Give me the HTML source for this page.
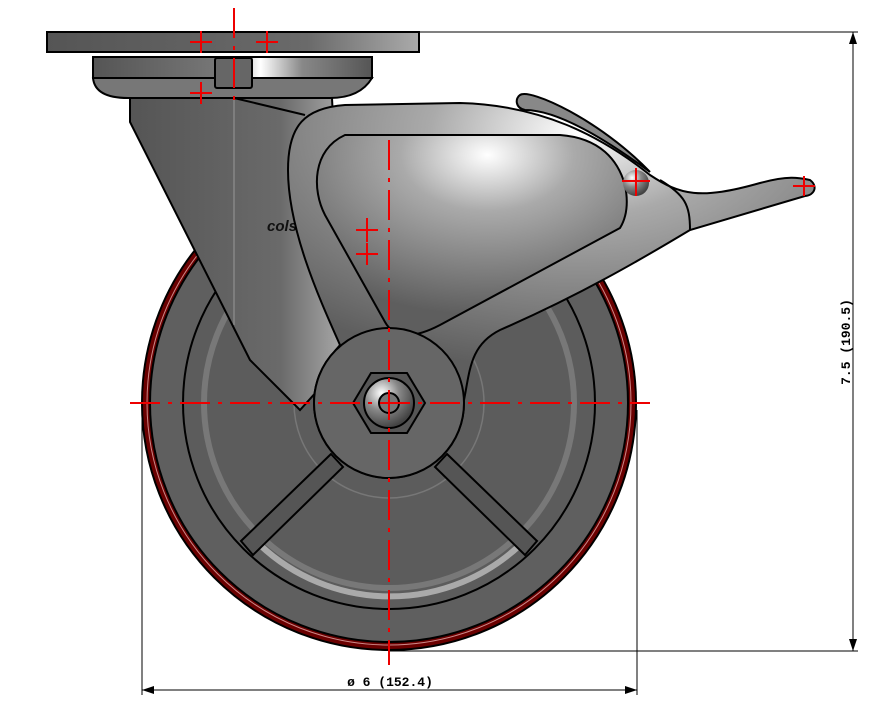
<!DOCTYPE html>
<html><head><meta charset="utf-8"><style>html,body{margin:0;padding:0;background:#fff}svg{display:block}</style></head>
<body>
<svg width="894" height="715" viewBox="0 0 894 715" xmlns="http://www.w3.org/2000/svg">
<defs>
<linearGradient id="g1" x1="0" y1="0" x2="1" y2="0"><stop offset="0" stop-color="#555"/><stop offset="0.7" stop-color="#6a6a6a"/><stop offset="1" stop-color="#aaa"/></linearGradient>
<linearGradient id="ring" x1="0" y1="0" x2="1" y2="0"><stop offset="0" stop-color="#555"/><stop offset="0.45" stop-color="#777"/><stop offset="0.6" stop-color="#fff"/><stop offset="0.75" stop-color="#888"/><stop offset="1" stop-color="#555"/></linearGradient>
<radialGradient id="arm" cx="0.55" cy="0.1" r="0.8"><stop offset="0" stop-color="#fff"/><stop offset="0.35" stop-color="#aaa"/><stop offset="1" stop-color="#5e5e5e"/></radialGradient>
<radialGradient id="ball" cx="0.35" cy="0.3" r="0.7"><stop offset="0" stop-color="#fff"/><stop offset="0.5" stop-color="#888"/><stop offset="1" stop-color="#444"/></radialGradient>
</defs>
<circle cx="389" cy="403" r="247" fill="#6b0000" stroke="#000" stroke-width="2"/>
<circle cx="389" cy="403" r="242" fill="none" stroke="#c88" stroke-width="1"/>
<circle cx="389" cy="403" r="239" fill="#5f5f5f" stroke="#000" stroke-width="2"/>
<circle cx="389" cy="403" r="206" fill="#5c5c5c" stroke="#000" stroke-width="2"/>
<circle cx="389" cy="403" r="185" fill="none" stroke="#8a8a8a" stroke-width="6" opacity="0.6"/>
<circle cx="389" cy="403" r="95" fill="none" stroke="#777" stroke-width="1.5"/>
<path d="M260 545 A190 190 0 0 0 520 545" fill="none" stroke="#ccc" stroke-width="6" opacity="0.7"/>
<path d="M331 454 L241 541 L253 555 L343 467 Z" fill="#555" stroke="#000" stroke-width="2"/>
<path d="M447 454 L537 541 L525 555 L435 467 Z" fill="#555" stroke="#000" stroke-width="2"/>
<path d="M130 98 L332 98 L345 360 L300 410 L250 360 L130 122 Z" fill="url(#g1)" stroke="#000" stroke-width="2"/>
<line x1="234" y1="98" x2="234" y2="325" stroke="#999" stroke-width="1"/>
<line x1="234" y1="98" x2="305" y2="115" stroke="#000" stroke-width="2"/>
<text x="267" y="231" font-family="Liberation Sans, sans-serif" font-size="15" font-weight="bold" font-style="italic" fill="#111">colson</text>
<rect x="47" y="32" width="372" height="20" fill="url(#g1)" stroke="#000" stroke-width="2"/>
<rect x="93" y="57" width="279" height="21" fill="url(#ring)" stroke="#000" stroke-width="2"/>
<path d="M93 78 L372 78 Q360 98 330 98 L128 98 Q95 98 93 78 Z" fill="#777" stroke="#000" stroke-width="2"/>
<rect x="215" y="58" width="37" height="30" rx="2" fill="#666" stroke="#000" stroke-width="2"/>
<circle cx="389" cy="403" r="75" fill="#666" stroke="#000" stroke-width="2"/>
<path d="M340 345 C320 300 288 230 288 170 C288 125 305 108 345 105 L460 103 C540 105 600 135 650 175 C680 195 700 200 760 183 C790 175 800 178 810 180 C818 186 815 195 805 196 L690 230 C640 260 580 295 500 330 C470 345 470 370 464 400 A75 75 0 0 0 316 400 C318 380 326 360 340 345 Z" fill="url(#arm)" stroke="#000" stroke-width="2"/>
<path d="M345 135 L560 135 C600 138 618 160 625 185 C628 200 628 215 620 228 L440 325 C415 338 395 340 385 322 L325 215 C312 190 312 150 345 135 Z" fill="url(#arm)" stroke="#000" stroke-width="2"/>
<path d="M690 230 C690 205 685 195 660 180" fill="none" stroke="#000" stroke-width="2"/>
<path d="M520 95 C530 88 600 120 650 172 C600 135 555 110 525 110 C515 108 515 98 520 95 Z" fill="#888" stroke="#000" stroke-width="2"/>
<circle cx="636" cy="183" r="13" fill="url(#ball)"/>
<circle cx="389" cy="403" r="75" fill="#666" stroke="#000" stroke-width="2"/>
<polygon points="353,403 371,373 407,373 425,403 407,433 371,433" fill="#555" stroke="#000" stroke-width="2"/>
<circle cx="389" cy="403" r="25" fill="url(#ball)" stroke="#000" stroke-width="2"/>
<circle cx="389" cy="403" r="10" fill="#777" stroke="#000" stroke-width="2"/>
<g stroke="#e00" stroke-width="2" fill="none">
<line x1="130" y1="403" x2="650" y2="403" stroke-dasharray="30,8,4,8"/>
<line x1="389" y1="140" x2="389" y2="665" stroke-dasharray="30,8,4,8"/>
<line x1="234" y1="8" x2="234" y2="100" stroke-dasharray="30,8,4,8"/>
<path d="M190 42h22M201 31v22M256 42h22M267 31v22M190 93h22M201 82v22M356 230h22M367 218v24M356 254h22M367 243v22M622 181h28M636 168v28M793 186h22M804 176v20"/>
</g>
<g stroke="#000" stroke-width="1" fill="none">
<line x1="419" y1="32" x2="858" y2="32"/>
<line x1="390" y1="651" x2="858" y2="651"/>
<line x1="853" y1="32" x2="853" y2="651"/>
<line x1="142" y1="410" x2="142" y2="695"/>
<line x1="637" y1="410" x2="637" y2="695"/>
<line x1="142" y1="690" x2="637" y2="690"/>
</g>
<g fill="#000">
<polygon points="853,32 849,44 857,44"/><polygon points="853,651 849,639 857,639"/>
<polygon points="142,690 154,686 154,694"/><polygon points="637,690 625,686 625,694"/>
</g>
<text x="390" y="686" text-anchor="middle" font-family="Liberation Mono, monospace" font-size="13" font-weight="bold">ø 6 (152.4)</text>
<text transform="translate(850,342) rotate(-90)" text-anchor="middle" font-family="Liberation Mono, monospace" font-size="13" font-weight="bold">7.5 (190.5)</text>
</svg>
</body></html>
